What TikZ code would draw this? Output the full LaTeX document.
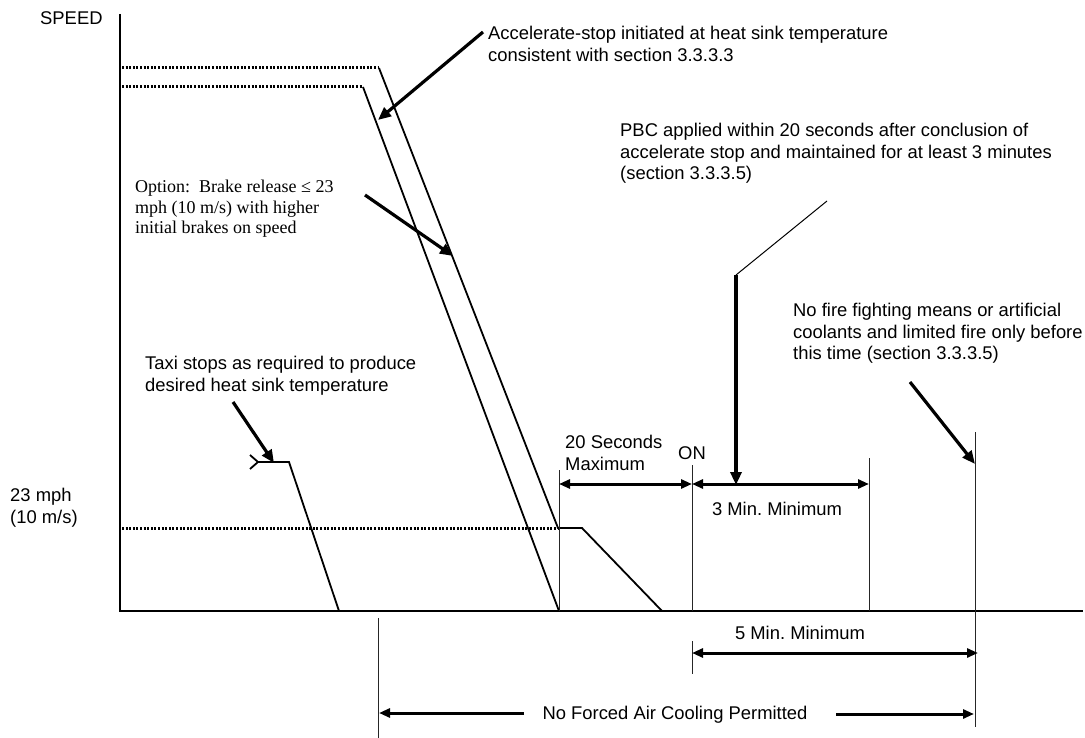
\documentclass[tikz,border=0pt]{standalone}
\usepackage{fontspec}
\setmainfont{Liberation Serif}
\setsansfont{Liberation Sans}
\usetikzlibrary{arrows.meta}
\begin{document}
\frenchspacing
\begin{tikzpicture}[x=1pt,y=-1pt,
  lbl/.style={font=\sffamily\fontsize{18.4}{21.5}\selectfont, inner sep=0pt, align=left},
  slbl/.style={font=\rmfamily\fontsize{18}{20.5}\selectfont, inner sep=0pt, align=left},
  axisline/.style={line width=1.6pt},
  prof/.style={line width=1.8pt},
  dots/.style={line width=3pt, dash pattern=on 2pt off 1.6pt},
  guide/.style={line width=1pt, black!85},
  callout/.style={line width=3.2pt, -{Triangle[length=13pt,width=11pt]}},
  dimarrow/.style={line width=3pt, {Triangle[length=11pt,width=9pt]}-{Triangle[length=11pt,width=9pt]}},
  onearrow/.style={line width=3pt, -{Triangle[length=11pt,width=9pt]}}
]
\useasboundingbox (0,0) rectangle (1085,738);

% axes
\coordinate (ytop) at (120,14);
\coordinate (orig) at (120,611);
\coordinate (xend) at (1083,611);
\draw[axisline] (ytop) -- (orig) -- (xend);

% profile points
\coordinate (u0) at (122,68);
\coordinate (u1) at (379,68);
\coordinate (u2) at (558,528);
\coordinate (l0) at (122,87);
\coordinate (l1) at (363,87);
\coordinate (l2) at (559,611);
\coordinate (m0) at (122,528);
\coordinate (m1) at (582,528);
\coordinate (m2) at (662,611);
\coordinate (t0) at (258,462);
\coordinate (t1) at (289,462);
\coordinate (t2) at (339,611);
\coordinate (ta) at (250,455);
\coordinate (tb) at (250,469);

\draw[dots] (u0) -- (u1);
\draw[dots] (l0) -- (l1);
\draw[dots] (m0) -- (u2);
\draw[prof] (u1) -- (u2) -- (m1) -- (m2);
\draw[prof] (l1) -- (l2);
\draw[prof] (ta) -- (t0) -- (tb);
\draw[prof] (t0) -- (t1) -- (t2);

% guide lines
\coordinate (g1a) at (559,470); \coordinate (g1b) at (559,611);
\coordinate (g2a) at (692,465); \coordinate (g2b) at (692,611);
\coordinate (g3a) at (869,458); \coordinate (g3b) at (869,611);
\coordinate (g4a) at (975,432); \coordinate (g4b) at (975,727);
\coordinate (g5a) at (378,618); \coordinate (g5b) at (378,738);
\coordinate (g6a) at (692,641); \coordinate (g6b) at (692,674);
\draw[guide] (g1a) -- (g1b);
\draw[guide] (g2a) -- (g2b);
\draw[guide] (g3a) -- (g3b);
\draw[guide] (g4a) -- (g4b);
\draw[guide] (g5a) -- (g5b);
\draw[guide] (g6a) -- (g6b);

% dimension arrows
\coordinate (d20a) at (559,484); \coordinate (d20b) at (692,484);
\coordinate (d3b) at (869,484);
\draw[dimarrow] (d20a) -- (d20b);
\draw[dimarrow] (d20b) -- (d3b);
\coordinate (d5a) at (692,653); \coordinate (d5b) at (978,653);
\draw[dimarrow] (d5a) -- (d5b);
\coordinate (nfa) at (524,713); \coordinate (nfb) at (379,713);
\coordinate (nfc) at (836,714); \coordinate (nfd) at (974,714);
\draw[onearrow] (nfa) -- (nfb);
\draw[onearrow] (nfc) -- (nfd);

% callouts
\coordinate (ac0) at (483,32); \coordinate (ac1) at (378,120);
\draw[callout] (ac0) -- (ac1);
\coordinate (op0) at (365,195); \coordinate (op1) at (453,256);
\draw[callout] (op0) -- (op1);
\coordinate (tx0) at (233,402); \coordinate (tx1) at (274,463);
\draw[callout] (tx0) -- (tx1);
\coordinate (nf0) at (910,382); \coordinate (nf1) at (975,464);
\draw[callout] (nf0) -- (nf1);
\coordinate (pb0) at (827,201); \coordinate (pb1) at (736,275); \coordinate (pb2) at (736,485);
\draw[line width=1pt] (pb0) -- (pb1);
\draw[callout] (pb1) -- (pb2);

% labels
\node[lbl, anchor=base west] (speed) at (40,24.5) {SPEED};
\node[lbl, anchor=north west] (accel) at (488,26) {Accelerate-stop initiated at heat sink temperature\\consistent with section 3.3.3.3};
\node[lbl, anchor=north west] (pbc) at (620,123) {PBC applied within 20 seconds after conclusion of\\accelerate stop and maintained for at least 3 minutes\\(section 3.3.3.5)};
\node[slbl, anchor=north west] (opt) at (135,180) {Option:\ \ Brake release ≤ 23\\mph (10 m/s) with higher\\initial brakes on speed};
\node[lbl, anchor=north west] (taxi) at (145,356) {Taxi stops as required to produce\\desired heat sink temperature};
\node[lbl, anchor=north west] (nofire) at (793,303) {No fire fighting means or artificial\\coolants and limited fire only before\\this time (section 3.3.3.5)};
\node[lbl, anchor=north west] (mph) at (10,488) {23 mph\\(10 m/s)};
\node[lbl, anchor=north west] (twenty) at (565,435) {20 Seconds\\Maximum};
\node[lbl, anchor=base] (on) at (692,459.5) {ON};
\node[lbl, anchor=base] (three) at (777,515.5) {3 Min. Minimum};
\node[lbl, anchor=base] (five) at (800,639.5) {5 Min. Minimum};
\node[lbl, anchor=base] (noforced) at (675,719.5) {No Forced Air Cooling Permitted};
\end{tikzpicture}
\end{document}
